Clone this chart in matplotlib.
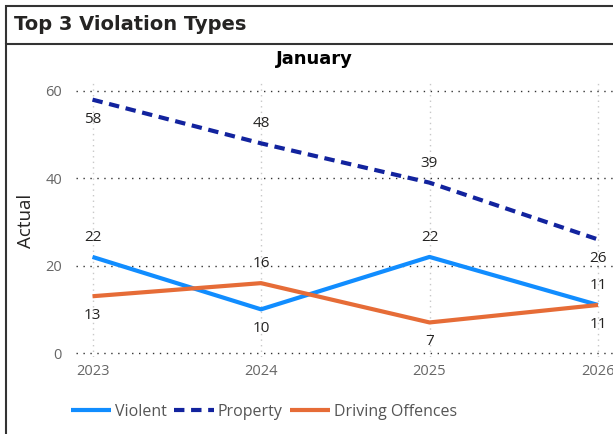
import matplotlib.pyplot as plt
from matplotlib.patches import Rectangle
from matplotlib.lines import Line2D

years = [2023, 2024, 2025, 2026]
violent = [22, 10, 22, 11]
property_ = [58, 48, 39, 26]
driving = [13, 16, 7, 11]

# label offset direction per point (+1 above, -1 below)
violent_pos = [1, -1, 1, 1]
property_pos = [-1, 1, 1, -1]
driving_pos = [-1, 1, -1, -1]

W, H = 613, 434
fig = plt.figure(figsize=(W / 100, H / 100), dpi=100)
plt.rcParams['font.family'] = ['Open Sans', 'DejaVu Sans']

# header box and left frame line
fig.add_artist(Rectangle((6 / W, 1 - 44 / H), 620 / W, 38 / H, transform=fig.transFigure,
                         fill=False, edgecolor='#333333', linewidth=1.5))
fig.add_artist(Line2D([6 / W, 6 / W], [0, 1 - 44 / H], transform=fig.transFigure,
                      color='#333333', linewidth=1.5))
fig.text(14 / W, 1 - 24 / H, "Top 3 Violation Types", fontsize=14, fontweight='bold',
         family='DejaVu Sans', color='#252423', va='center', ha='left')
fig.text(314 / W, 1 - 59 / H, "January", fontsize=13, fontweight='bold',
         family='DejaVu Sans', color='#000000', va='center', ha='center')
fig.text(26 / W, 1 - 221 / H, "Actual", fontsize=13.5, rotation=90, color='#252423',
         va='center', ha='center')

ax = fig.add_axes([76 / W, (H - 357.4) / H, 537 / W, 277.4 / H])
ax.set_xlim(2022.902, 2026.089)
ax.set_ylim(-1, 62.5)
for s in ax.spines.values():
    s.set_visible(False)
ax.set_xticks(years)
ax.set_yticks([0, 20, 40, 60])
ax.tick_params(length=0, colors='#666666', labelsize=10.5)
ax.tick_params(axis='y', pad=10)
ax.tick_params(axis='x', pad=5)
ax.grid(axis='y', linestyle=(0, (1, 4)), color='#333333', linewidth=1)
ax.grid(axis='x', linestyle=(0, (1, 3)), color='#c8c8c8', linewidth=1)

series = [
    ("Violent", violent, violent_pos, '#118DFF', '-'),
    ("Property", property_, property_pos, '#12239E', (0, (2.5, 1.6))),
    ("Driving Offences", driving, driving_pos, '#E66C37', '-'),
]
for name, vals, pos, col, ls in series:
    ax.plot(years, vals, color=col, linestyle=ls, linewidth=3, label=name,
            solid_capstyle='butt', clip_on=False)
    for x, v, p in zip(years, vals, pos):
        ax.annotate(str(v), (x, v), xytext=(0, 14 * p), textcoords='offset points',
                    ha='center', va='center', fontsize=11, color='#252423')

fig.legend(loc='center', bbox_to_anchor=(264 / W, 22 / H), ncol=3, frameon=False,
           fontsize=11.5, handlelength=2.5, handletextpad=0.25, columnspacing=0.45,
           labelcolor='#555555')

fig.savefig("out.png", dpi=100)
